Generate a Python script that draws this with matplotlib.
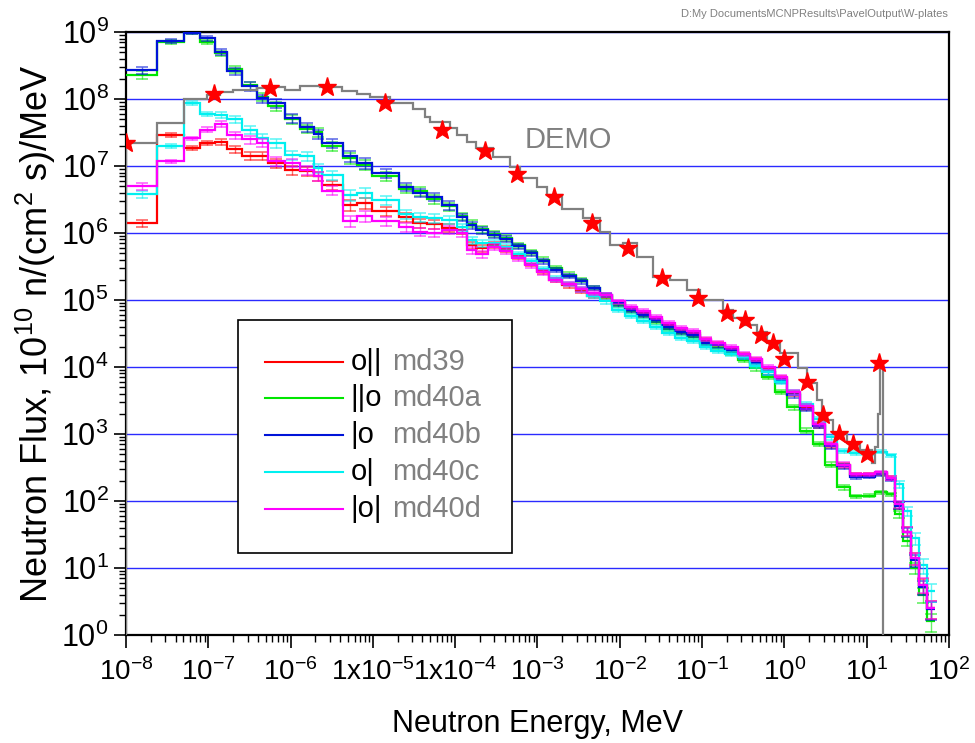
import numpy as np
import matplotlib
matplotlib.use("Agg")
import matplotlib.pyplot as plt
from matplotlib.ticker import FixedLocator, FixedFormatter, LogLocator, NullFormatter
from matplotlib.patches import Rectangle

plt.rcParams['font.family'] = ['Liberation Sans', 'DejaVu Sans']
plt.rcParams['mathtext.fontset'] = 'custom'
plt.rcParams['mathtext.rm'] = 'Liberation Sans'
plt.rcParams['mathtext.default'] = 'regular'

# energy bin edges [MeV] shared by the five calculations
edges = [1.0e-8, 2.4e-8, 5.1e-8, 7.9e-8, 1.2e-7, 1.7e-7, 2.6e-7, 3.9e-7, 5.3e-7, 8.5e-7,
         1.3e-6, 1.9e-6, 2.4e-6, 4.3e-6, 6.4e-6, 9.8e-6, 2.1e-5, 3.1e-5, 4.5e-5, 6.9e-5,
         1.05e-4, 1.4e-4, 1.8e-4, 2.5e-4, 3.5e-4, 4.9e-4, 7.0e-4, 9.9e-4, 1.4e-3, 2.0e-3,
         2.9e-3, 4.0e-3, 5.8e-3, 8.0e-3, 1.16e-2, 1.6e-2, 2.3e-2, 3.3e-2, 4.7e-2, 6.5e-2,
         9.4e-2, 0.13, 0.19, 0.27, 0.38, 0.53, 0.77, 1.08, 1.55, 2.2,
         3.1, 4.4, 6.3, 8.8, 12.6, 17.7, 22, 27.6, 34.5, 43, 54, 68]

md39 = [1.41e6, 2.9e7, 1.86e7, 2.2e7, 2.3e7, 1.78e7, 1.41e7, 1.41e7, 1.1e7, 8.7e6,
        8.3e6, 7.1e6, 5.2e6, 2.6e6, 2.8e6, 2.1e6, 1.74e6, 1.41e6, 1.35e6, 1.2e6,
        1.1e6, 6.6e5, 6.0e5, 6.6e5, 5.8e5, 4.5e5, 3.5e5, 2.7e5, 2.0e5, 1.66e5,
        1.38e5, 1.15e5, 1.12e5, 9.1e4, 7.4e4, 6.3e4, 5.2e4, 4.3e4, 3.5e4, 3.2e4,
        2.5e4, 2.2e4, 1.86e4, 1.51e4, 1.26e4, 9.5e3, 6.8e3, 4.0e3, 2.5e3, 1.35e3,
        6.8e2, 3.4e2, 2.45e2, 2.45e2, 2.6e2, 2.2e2, 87, 35, 14, 5.5, 2.5]
md40a = [2.3e8, 7.1e8, 9.8e8, 7.1e8, 4.8e8, 2.8e8, 1.6e8, 1.07e8, 7.9e7, 5.0e7,
         3.6e7, 3.2e7, 2.0e7, 1.32e7, 1.05e7, 7.1e6, 4.6e6, 4.2e6, 3.2e6, 2.5e6,
         1.8e6, 1.38e6, 1.15e6, 9.8e5, 8.5e5, 6.6e5, 5.2e5, 4.0e5, 3.0e5, 2.4e5,
         2.0e5, 1.5e5, 1.15e5, 8.5e4, 6.8e4, 5.8e4, 4.7e4, 3.7e4, 3.2e4, 2.8e4,
         2.2e4, 1.9e4, 1.6e4, 1.26e4, 9.5e3, 7.1e3, 4.2e3, 2.5e3, 1.12e3, 7.1e2,
         3.5e2, 1.6e2, 1.17e2, 1.2e2, 1.35e2, 1.26e2, 63, 25, 10, 4.0, 1.6]
md40b = [2.7e8, 7.4e8, 9.8e8, 8.1e8, 5.0e8, 2.6e8, 1.55e8, 1.02e8, 8.7e7, 5.2e7,
         3.8e7, 3.0e7, 2.2e7, 1.41e7, 1.1e7, 7.9e6, 4.9e6, 4.0e6, 3.5e6, 2.6e6,
         1.74e6, 1.32e6, 1.1e6, 9.3e5, 8.1e5, 6.3e5, 5.0e5, 3.8e5, 2.8e5, 2.3e5,
         1.9e5, 1.5e5, 1.2e5, 8.9e4, 7.1e4, 6.0e4, 5.0e4, 4.0e4, 3.3e4, 3.0e4,
         2.3e4, 2.1e4, 1.78e4, 1.41e4, 1.15e4, 8.3e3, 6.3e3, 3.8e3, 2.4e3, 1.32e3,
         6.6e2, 3.3e2, 2.3e2, 2.3e2, 2.5e2, 2.1e2, 85, 34, 13, 5.2, 2.4]
md40c = [3.8e6, 2.0e7, 8.7e7, 6.0e7, 5.8e7, 5.0e7, 3.5e7, 2.6e7, 2.2e7, 1.45e7,
         1.41e7, 9.3e6, 7.4e6, 3.7e6, 4.0e6, 3.1e6, 1.9e6, 1.74e6, 1.66e6, 1.58e6,
         1.23e6, 7.9e5, 7.1e5, 7.1e5, 6.2e5, 4.8e5, 3.8e5, 2.9e5, 2.1e5, 1.74e5,
         1.45e5, 1.15e5, 9.5e4, 7.2e4, 5.8e4, 4.8e4, 4.0e4, 3.2e4, 2.75e4, 2.45e4,
         2.0e4, 1.74e4, 1.58e4, 1.41e4, 1.05e4, 8.3e3, 6.0e3, 4.2e3, 2.8e3, 1.66e3,
         8.9e2, 5.6e2, 5.2e2, 5.2e2, 5.4e2, 4.8e2, 1.78e2, 71, 28, 11, 4.5]
md40d = [5.0e6, 1.17e7, 2.6e7, 3.5e7, 4.3e7, 2.9e7, 2.5e7, 2.2e7, 1.17e7, 1.12e7,
         8.7e6, 7.1e6, 4.3e6, 1.5e6, 1.78e6, 1.5e6, 1.23e6, 1.05e6, 1.0e6, 1.12e6,
         1.0e6, 5.6e5, 4.8e5, 6.2e5, 5.4e5, 4.2e5, 3.3e5, 2.6e5, 2.0e5, 1.74e5,
         1.45e5, 1.26e5, 1.2e5, 9.5e4, 7.9e4, 6.8e4, 5.6e4, 4.6e4, 3.8e4, 3.4e4,
         2.6e4, 2.3e4, 2.0e4, 1.58e4, 1.32e4, 1.0e4, 7.1e3, 4.2e3, 2.6e3, 1.41e3,
         7.1e2, 3.5e2, 2.5e2, 2.5e2, 2.7e2, 2.2e2, 89, 35, 14, 5.6, 2.5]
# relative statistical error per bin
rel_err = [0.12, 0.06, 0.06, 0.08, 0.10, 0.12, 0.14, 0.14, 0.15, 0.15,
           0.15, 0.15, 0.15, 0.18, 0.18, 0.15, 0.15, 0.15, 0.14, 0.14,
           0.12, 0.12, 0.12, 0.10, 0.10, 0.09, 0.09, 0.09, 0.08, 0.08,
           0.08, 0.07, 0.07, 0.07, 0.07, 0.07, 0.07, 0.07, 0.07, 0.07,
           0.07, 0.07, 0.07, 0.07, 0.07, 0.07, 0.07, 0.08, 0.08, 0.08,
           0.08, 0.08, 0.06, 0.05, 0.05, 0.06, 0.12, 0.15, 0.20, 0.25, 0.30]

# DEMO reference spectrum
demo_edges = [1e-8, 2.4e-8, 5.1e-8, 9.6e-8, 1.4e-7, 2.0e-7, 3.9e-7, 6.1e-7, 8.5e-7, 1.3e-6,
              2.3e-6, 4.2e-6, 6.4e-6, 9.2e-6, 1.6e-5, 3.1e-5, 4.3e-5, 4.9e-5, 8.6e-5, 1.05e-4,
              1.4e-4, 1.8e-4, 2.9e-4, 4.6e-4, 6.1e-4, 9.9e-4, 1.3e-3, 2.0e-3, 3.6e-3, 5.8e-3,
              7.6e-3, 1.1e-2, 1.6e-2, 2.5e-2, 4.1e-2, 6.5e-2, 9.4e-2, 0.18, 0.24, 0.33,
              0.46, 0.62, 0.88, 1.46, 1.88, 2.5, 2.9, 3.9, 5.8, 8.3,
              11.6, 12.6, 13.7, 14.5, 15.8]
demo_flux = [2.2e7, 4.4e7, 1.0e8, 1.15e8, 1.26e8, 1.35e8, 1.45e8, 1.5e8, 1.35e8, 1.55e8,
             1.5e8, 1.32e8, 1.17e8, 1.07e8, 8.7e7, 7.1e7, 5.4e7, 4.6e7, 3.7e7, 2.9e7,
             2.3e7, 1.86e7, 1.35e7, 9.8e6, 6.6e6, 4.9e6, 3.7e6, 2.3e6, 1.66e6, 1.02e6,
             6.6e5, 7.1e5, 4.4e5, 2.2e5, 2.0e5, 1.41e5, 1.0e5, 7.1e4, 5.4e4, 4.2e4,
             3.3e4, 2.3e4, 1.62e4, 9.8e3, 5.8e3, 3.2e3, 1.62e3, 1.02e3, 7.4e2, 5.8e2,
             3.7e2, 6.5e2, 2.0e3, 1.12e4]
star_E = [1e-8, 1.17e-7, 5.6e-7, 2.8e-6, 1.4e-5, 7e-5, 2.3e-4, 5.7e-4, 1.6e-3, 4.6e-3,
          1.25e-2, 3.3e-2, 8.9e-2, 0.2, 0.33, 0.52, 0.72, 1.0, 1.9, 2.95,
          4.6, 6.8, 10, 14]
star_F = [2.2e7, 1.18e8, 1.45e8, 1.5e8, 8.7e7, 3.5e7, 1.66e7, 7.6e6, 3.5e6, 1.4e6,
          6e5, 2.1e5, 1.07e5, 6.5e4, 5e4, 3.0e4, 2.3e4, 1.3e4, 6e3, 1.9e3,
          1e3, 7e2, 5e2, 1.15e4]

series = [(md39, '#ff0000', 'o||', 'md39'),
          (md40a, '#00e600', '||o', 'md40a'),
          (md40b, '#0014d8', '|o', 'md40b'),
          (md40c, '#00f0f0', 'o|', 'md40c'),
          (md40d, '#ff00ff', '|o|', 'md40d')]

xlabels = ['10$^{-8}$', '10$^{-7}$', '10$^{-6}$', '1x10$^{-5}$', '1x10$^{-4}$', '10$^{-3}$',
           '10$^{-2}$', '10$^{-1}$', '10$^{0}$', '10$^{1}$', '10$^{2}$']
ylabels = ['10$^{%d}$' % k for k in range(0, 10)]

fig = plt.figure(figsize=(9.75, 7.43), dpi=100)
ax = fig.add_axes([0.1292, 0.1454, 0.8441, 0.8115])
ax.set_xscale('log')
ax.set_yscale('log')

ed = np.array(edges)
centers = np.sqrt(ed[:-1] * ed[1:])
for vals, col, tag, name in series:
    v = np.array(vals)
    ax.errorbar(centers, v, yerr=v * np.array(rel_err), fmt='none', ecolor=col,
                elinewidth=1, capsize=4.5, capthick=1.2, alpha=0.6, zorder=3)
    ax.stairs(v, edges, color=col, lw=1.6, baseline=None, zorder=3)

ax.stairs(demo_flux, demo_edges, color='#808080', lw=1.6, baseline=1e-2, zorder=4)
ax.plot(star_E, star_F, ls='none', marker='*', ms=14, color='#ff0000', zorder=5)
ax.text(7e-4, 2.45e7, 'DEMO', fontsize=21, color='#808080', va='center')

ax.set_xlim(1e-8, 1e2)
ax.set_ylim(1, 1e9)
ax.xaxis.set_major_locator(FixedLocator(10.0 ** np.arange(-8, 3)))
ax.xaxis.set_major_formatter(FixedFormatter(xlabels))
ax.yaxis.set_major_locator(FixedLocator(10.0 ** np.arange(0, 10)))
ax.yaxis.set_major_formatter(FixedFormatter(ylabels))
for a in (ax.xaxis, ax.yaxis):
    a.set_minor_locator(LogLocator(base=10, subs=np.arange(2, 10), numticks=100))
    a.set_minor_formatter(NullFormatter())
ax.tick_params(which='major', direction='out', length=9, width=1.2)
ax.tick_params(which='minor', direction='out', length=5, width=1)
ax.tick_params(axis='x', which='major', labelsize=20, pad=8)
ax.tick_params(axis='y', which='major', labelsize=22)
ax.yaxis.grid(True, which='major', color='#2a2aff', lw=1)
ax.set_axisbelow(True)
for s in ax.spines.values():
    s.set_linewidth(1.6)

ax.set_xlabel('Neutron Energy, MeV', fontsize=22, labelpad=16)
ax.set_ylabel('Neutron Flux, 10$^{10}$ n/(cm$^2$ s)/MeV', fontsize=26, labelpad=2)

# legend box drawn by hand (two-coloured labels)
ax.add_patch(Rectangle((0.136, 0.136), 0.333, 0.386, transform=ax.transAxes,
                       fc='white', ec='black', lw=1.2, zorder=6))
rows = [0.453, 0.393, 0.332, 0.270, 0.209]
for (vals, col, tag, name), yy in zip(series, rows):
    ax.plot([0.169, 0.264], [yy, yy], transform=ax.transAxes, color=col, lw=1.5, zorder=7)
    ax.text(0.273, yy, tag, transform=ax.transAxes, fontsize=21, va='center', zorder=7)
    ax.text(0.323, yy, name, transform=ax.transAxes, fontsize=21, va='center',
            color='#808080', zorder=7)

fig.text(0.972, 0.981, r'D:My DocumentsMCNPResults\PavelOutput\W-plates', fontsize=8,
         color='#808080', ha='right', va='center')

fig.savefig('out.png', dpi=100)
